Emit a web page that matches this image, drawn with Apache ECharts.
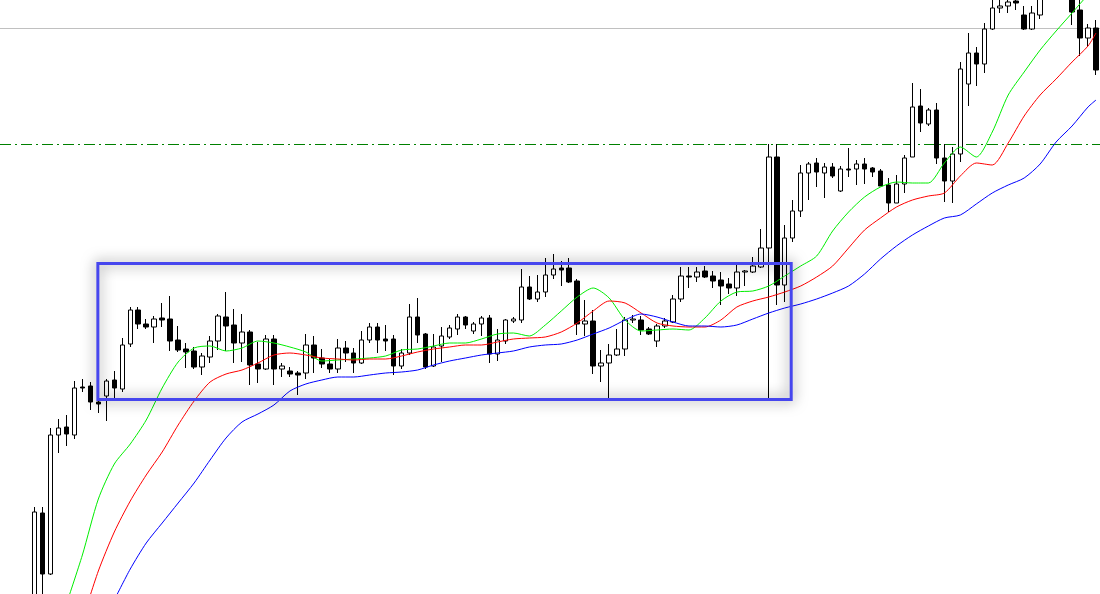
<!DOCTYPE html>
<html>
<head>
<meta charset="utf-8">
<script src="https://cdn.jsdelivr.net/npm/echarts@6/dist/echarts.min.js"></script>
<style>
  html, body { margin: 0; padding: 0; background: #fff; }
  #chart { width: 1100px; height: 594px; }
</style>
</head>
<body>
<div id="chart"></div>
<script>
// candles: [open, close, low, high]
const candles = [
  [390,488,380,493],[487,426,395,493],[426,565,425,572],[565,572,547,581],[573,566,554,585],
  [565,612,561,619],[613,612,608,621],[614,598,590,618],[598,596,587,602],[604,619,579,621],
  [620,612,601,629],[611,655,608,662],[656,690,653,693],[690,676,671,693],[676,673,671,681],
  [673,681,657,684],[682,680,673,697],[681,659,649,704],[660,650,648,674],[651,648,632,657],
  [649,633,631,653],[633,644,625,647],[643,659,637,664],[659,684,650,686],[683,674,649,708],
  [675,657,637,691],[657,668,638,686],[668,635,615,670],[636,631,617,658],[631,661,630,665],
  [661,631,615,665],[631,634,623,637],[629,626,623,633],[627,625,605,629],[627,655,621,666],
  [655,642,627,664],[642,636,632,651],[636,631,627,641],[631,652,627,661],[652,647,638,659],
  [647,637,627,652],[637,660,636,669],[660,673,657,677],[673,660,647,677],[661,659,649,675],
  [661,634,625,665],[634,647,631,651],[647,683,645,696],[683,665,657,702],[666,633,631,667],
  [634,653,633,666],[654,664,638,673],[663,672,661,675],[671,683,665,686],[683,675,671,684],
  [669,676,666,678],[676,682,664,684],[682,646,637,685],[646,660,639,671],[659,680,656,681],
  [679,681,677,683],[680,713,677,731],[713,701,700,724],[701,708,698,725],[708,725,703,742],
  [725,731,721,746],[732,730,714,739],[732,718,717,742],[719,676,665,721],[676,679,664,700],
  [679,634,626,690],[634,637,618,650],[637,645,601,656],[645,651,644,671],[651,680,644,683],
  [680,681,677,685],[680,670,665,684],[671,666,665,673],[659,674,653,676],[674,679,672,682],
  [678,701,677,705],[701,724,698,733],[724,723,712,733],[723,728,718,733],[729,723,722,734],
  [724,719,712,729],[720,714,695,728],[716,712,706,722],[712,728,704,735],[728,729,714,730],
  [728,734,727,743],[733,752,732,771],[752,843,601,856],[843,715,695,856],[715,762,698,775],
  [762,789,758,800],[789,827,783,835],[827,836,800,838],[837,828,813,842],[827,833,802,837],
  [833,824,822,837],[809,831,808,834],[831,830,823,852],[831,836,815,840],[836,831,816,842],
  [832,828,823,833],[829,814,814,831],[815,797,788,822],[797,816,797,825],[816,842,807,845],
  [843,893,843,917],[894,877,868,911],[876,890,874,892],[890,842,836,897],[842,819,798,856],
  [819,846,797,853],[846,931,838,938],[916,947,894,967],[947,936,914,953],[936,971,927,977],
  [971,992,970,1005],[992,994,987,1003],[994,998,987,1008],[999,997,990,1010],[985,971,970,994],
  [971,987,970,994],[985,1005,981,1015],[1010,1025,1005,1040],[1025,1015,1008,1040],[1015,1008,1003,1030],
  [1010,988,975,1020],[990,962,944,1002],[962,972,953,976],[972,930,925,980]
];

// moving averages: [bar, value]
const maFast = [
  [4,396],[6,445],[8,501],[10,536],[12,556],[14,580],[16,612],[18,638],[20,652],[22,654],
  [24,649],[26,652],[28,659],[30,657],[32,653],[34,648],[36,639],[38,640],[40,641],[42,642],
  [44,644],[46,650],[48,651],[50,654],[52,657],[54,657],[56,661],[58,666],[60,667],[62,664],
  [64,675],[66,689],[68,703],[70,712],[72,702],[74,680],[76,669],[78,670],[80,671],[82,670],
  [84,682],[86,699],[88,708],[90,709],[92,714],[94,724],[96,734],[98,744],[100,769],[102,788],
  [104,803],[106,813],[108,818],[110,817],[112,817],[114,837],[116,853],[118,843],[120,868],[122,905],
  [124,928],[126,950],[128,969],[130,987],[132,1005],[133,1010]
];
const maMid = [
  [6,380],[8,429],[10,468],[12,499],[14,525],[16,548],[18,575],[20,599],[22,618],[24,626],
  [26,630],[28,637],[30,645],[32,647],[34,645],[36,642],[38,641],[40,640],[42,641],[44,641],
  [46,644],[48,648],[50,651],[52,653],[54,655],[56,655],[58,658],[60,661],[62,662],[64,663],
  [66,668],[68,677],[70,689],[72,699],[74,697],[76,687],[78,677],[80,674],[82,673],[84,673],
  [86,680],[88,693],[90,699],[92,703],[94,708],[96,714],[98,723],[100,734],[102,752],[104,770],
  [106,782],[108,793],[110,800],[112,804],[114,807],[116,824],[118,837],[120,835],[122,857],[124,884],
  [126,905],[128,921],[130,938],[132,954],[133,967]
];
const maSlow = [
  [10,400],[12,431],[14,457],[16,477],[18,497],[20,517],[22,540],[24,562],[26,578],[28,586],
  [30,595],[32,609],[34,616],[36,620],[38,623],[40,623],[42,625],[44,627],[46,628],[48,630],
  [50,635],[52,639],[54,642],[56,645],[58,647],[60,649],[62,653],[64,655],[66,656],[68,660],
  [70,666],[72,672],[74,680],[76,686],[78,683],[80,678],[82,674],[84,674],[86,673],[88,675],
  [90,681],[92,687],[94,692],[96,696],[98,701],[100,707],[102,714],[104,726],[106,741],[108,754],
  [110,765],[112,774],[114,782],[116,785],[118,796],[120,807],[122,815],[124,822],[126,836],[128,858],
  [130,874],[132,893],[133,900]
];

// horizontal levels and the range box
const resistanceLevel = 855.5;
const topLevel = 971.5;
const boxBars = [7.94, 94.81];
const boxPrices = [600.5, 736.5];

const bars = candles.map((c, i) => String(i + 1));

const chart = echarts.init(document.getElementById('chart'));

function maSeries(data, color) {
  return {
    type: 'line',
    data: data,
    showSymbol: false,
    smooth: 0.25,
    connectNulls: true,
    z: 4,
    lineStyle: { color: color, width: 1 },
    silent: true
  };
}

chart.setOption({
  animation: false,
  backgroundColor: '#ffffff',
  grid: { left: 30.5, top: 0, width: 1072, height: 594 },
  xAxis: {
    type: 'category',
    data: bars,
    boundaryGap: true,
    show: false
  },
  yAxis: {
    type: 'value',
    min: 406,
    max: 1000,
    show: false,
    splitLine: { show: false }
  },
  series: [
    {
      type: 'candlestick',
      data: candles,
      barWidth: 5,
      z: 3,
      itemStyle: {
        color: '#ffffff',
        color0: '#000000',
        borderColor: '#000000',
        borderColor0: '#000000',
        borderWidth: 1
      }
    },
    maSeries(maFast, '#00ee00'),
    maSeries(maMid, '#ff0000'),
    maSeries(maSlow, '#0000ff')
  ]
});

// overlay drawn from data coordinates
const xAt = bar => {
  const b0 = Math.floor(bar);
  const p0 = chart.convertToPixel({ xAxisIndex: 0 }, b0);
  const p1 = chart.convertToPixel({ xAxisIndex: 0 }, b0 + 1);
  return p0 + (p1 - p0) * (bar - b0);
};
const yAt = v => chart.convertToPixel({ yAxisIndex: 0 }, v);

const W = chart.getWidth();
const bx0 = xAt(boxBars[0]), bx1 = xAt(boxBars[1]);
const by0 = yAt(boxPrices[1]), by1 = yAt(boxPrices[0]);

chart.setOption({
  graphic: [
    {
      type: 'line',
      z: 1,
      shape: { x1: 0, y1: yAt(topLevel), x2: W, y2: yAt(topLevel) },
      style: { stroke: '#c0c0c0', lineWidth: 1 }
    },
    {
      type: 'line',
      z: 1,
      shape: { x1: 0, y1: yAt(resistanceLevel), x2: W, y2: yAt(resistanceLevel) },
      style: { stroke: '#008000', lineWidth: 1, lineDash: [11, 4, 2, 4] }
    },
    {
      type: 'rect',
      z: 10,
      shape: { x: bx0, y: by0, width: bx1 - bx0, height: by1 - by0 },
      style: {
        fill: 'none',
        stroke: '#4646ee',
        lineWidth: 3,
        shadowBlur: 14,
        shadowColor: 'rgba(0,0,0,0.6)'
      }
    }
  ]
});
</script>
</body>
</html>
